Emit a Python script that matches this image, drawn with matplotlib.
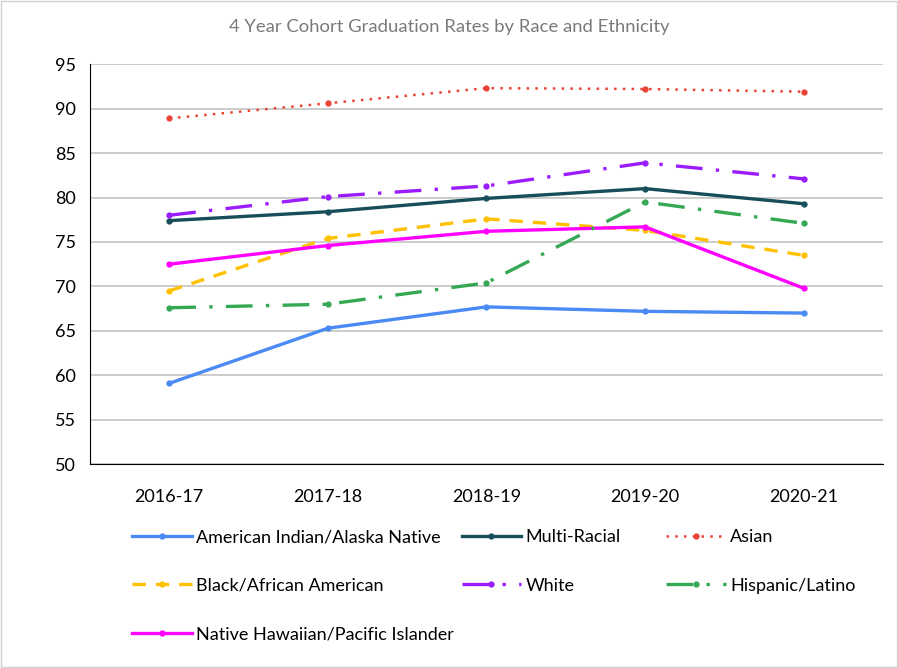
import matplotlib
matplotlib.use("Agg")
import matplotlib.pyplot as plt
import numpy as np

plt.rcParams['font.family'] = ['Lato', 'DejaVu Sans']

years = ["2016-17", "2017-18", "2018-19", "2019-20", "2020-21"]
american_indian = [59.1, 65.3, 67.7, 67.2, 67.0]
multi_racial = [77.4, 78.4, 79.9, 81.0, 79.3]
asian = [88.9, 90.6, 92.3, 92.2, 91.9]
black = [69.5, 75.4, 77.6, 76.3, 73.5]
white = [78.0, 80.1, 81.3, 83.9, 82.1]
hispanic = [67.6, 68.0, 70.4, 79.5, 77.1]
hawaiian = [72.5, 74.6, 76.2, 76.7, 69.8]

fig = plt.figure(figsize=(8.98, 6.68), dpi=100)
ax = fig.add_axes([0.1002, 0.305, 0.883, 0.599])
x = np.arange(len(years))

lw = 2.4
ms = 3.5
h_ai, = ax.plot(x, american_indian, color='#4a8af4', lw=lw, marker='o', ms=ms,
                label='American Indian/Alaska Native')
h_bl, = ax.plot(x, black, color='#ffc000', lw=lw, ls=(0, (4, 3)), marker='o', ms=ms,
                label='Black/African American')
h_nh, = ax.plot(x, hawaiian, color='#ff00ff', lw=lw, marker='o', ms=ms,
                label='Native Hawaiian/Pacific Islander')
h_mr, = ax.plot(x, multi_racial, color='#174e5a', lw=lw, marker='o', ms=ms,
                label='Multi-Racial')
h_wh, = ax.plot(x, white, color='#9a1cff', lw=lw, ls=(0, (8, 4, 1, 4)), marker='o', ms=ms,
                label='White')
h_as, = ax.plot(x, asian, color='#ea4335', lw=1.8, ls=(0, (1, 2.5)), marker='o', ms=ms,
                label='Asian')
h_hi, = ax.plot(x, hispanic, color='#34a853', lw=lw, ls=(0, (8, 4, 1, 4)), marker='o', ms=ms,
                label='Hispanic/Latino')

ax.set_xlim(-0.5, 4.5)
ax.set_ylim(50, 95)
ax.set_yticks(np.arange(50, 96, 5))
ax.set_xticks(x)
ax.set_xticklabels(years)
ax.tick_params(axis='both', length=0, labelsize=13, colors='black')
ax.tick_params(axis='x', pad=18)
ax.tick_params(axis='y', pad=10)
ax.yaxis.grid(True, color='#c4c4c4', lw=1.2)
ax.set_axisbelow(True)
for s in ['top', 'right']:
    ax.spines[s].set_visible(False)
ax.spines['left'].set_color('black')
ax.spines['bottom'].set_color('black')

fig.text(0.5, 0.96, '4 Year Cohort Graduation Rates by Race and Ethnicity',
         ha='center', va='center', fontsize=13.3, color='#7a7a7a')

# one legend per column so the columns sit where the reference has them
columns = [([h_ai, h_bl, h_nh], 0.147), ([h_mr, h_wh], 0.514), ([h_as, h_hi], 0.742)]
for handles, xpos in columns:
    leg = fig.legend(handles=handles, loc='upper left', bbox_to_anchor=(xpos, 0.208),
                     frameon=False, fontsize=13, handlelength=3.3, handletextpad=0.25,
                     labelspacing=1.8, borderpad=0, borderaxespad=0)

fig.patches.append(plt.Rectangle((0.001, 0.001), 0.998, 0.998, transform=fig.transFigure,
                                 fill=False, ec='#d0d0d0', lw=1))

fig.savefig('out.png', dpi=100)
